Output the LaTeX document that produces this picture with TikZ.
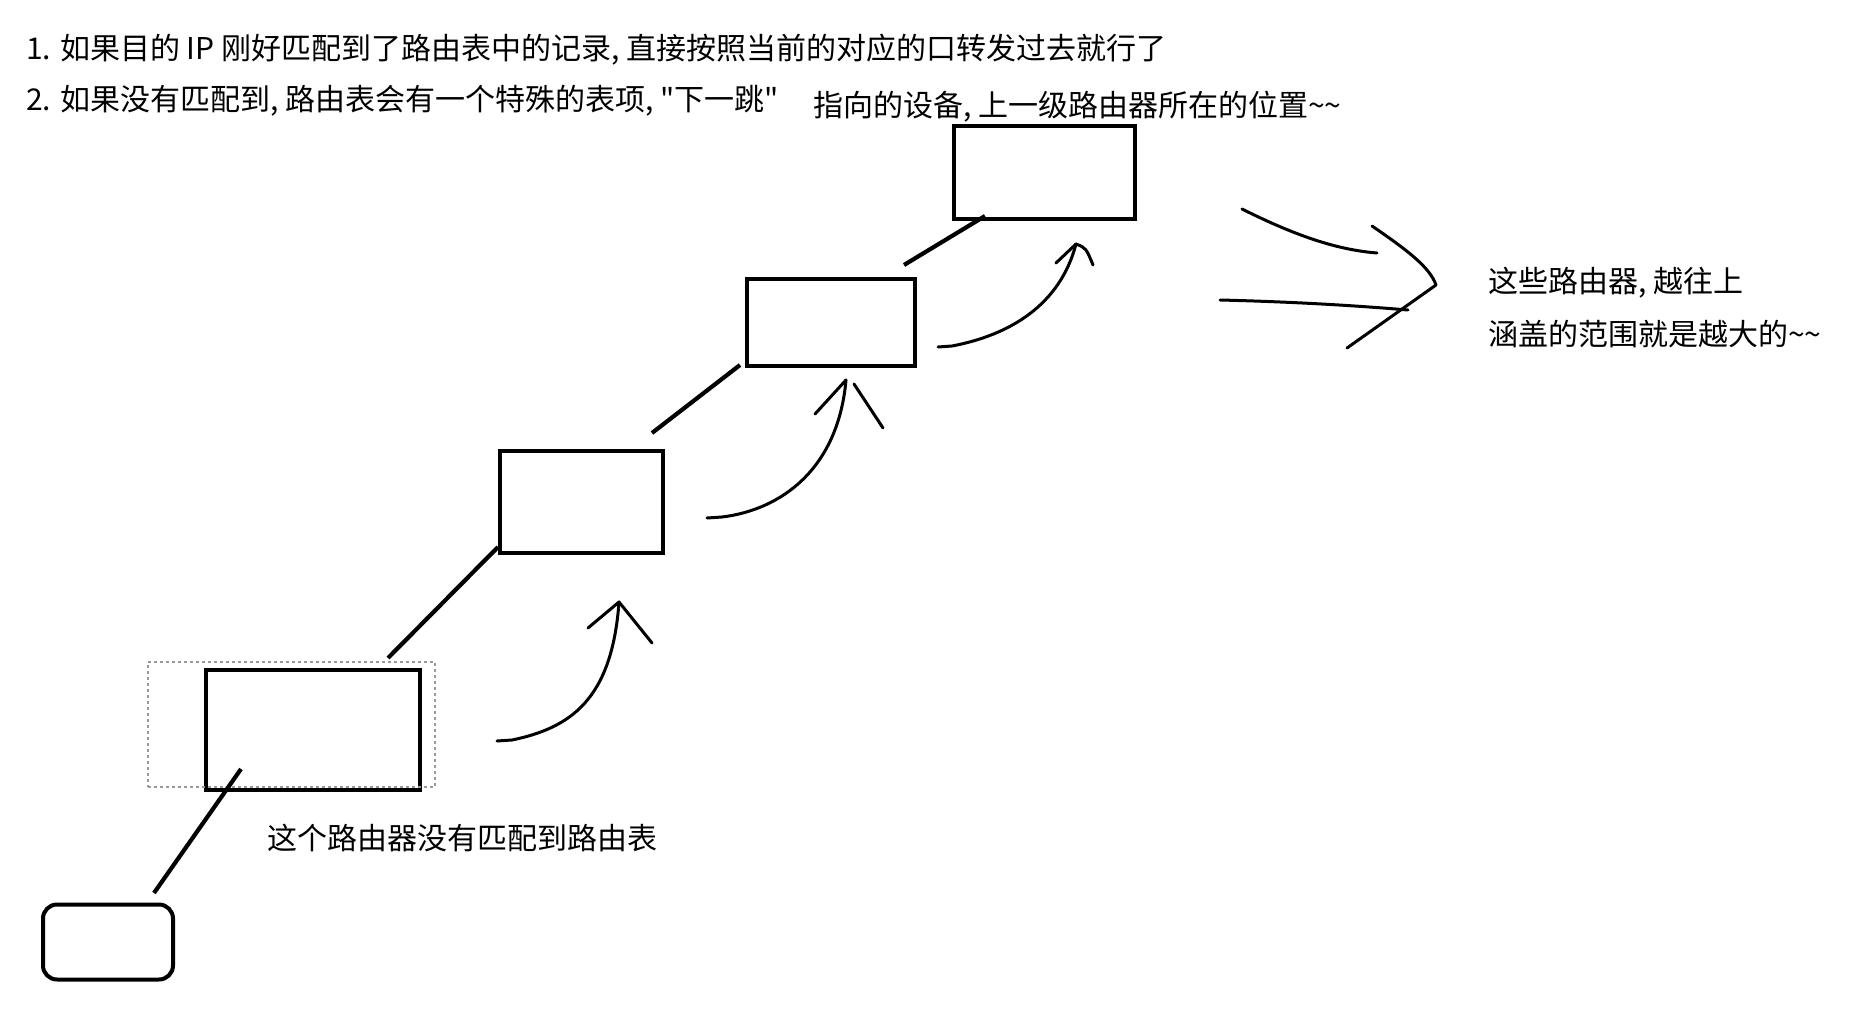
\documentclass[tikz,border=0pt]{standalone}
\usepackage{fontspec}
\setmainfont{Noto Sans CJK SC}
\usetikzlibrary{positioning}

\begin{document}
\begin{tikzpicture}[
  x=1pt, y=-1pt,
  font=\fontsize{30}{36}\selectfont,
  rt/.style={draw, line width=4pt, inner sep=0pt},
  sel/.style={draw=gray!80, line width=1.2pt, dash pattern=on 3pt off 3pt, inner sep=0pt},
  link/.style={line width=4.2pt},
  pen/.style={line width=3pt, line cap=round, line join=round},
  note/.style={anchor=west, inner sep=0pt}
]
\fill[white] (0,0) rectangle (1870,1016);
\useasboundingbox (0,0) rectangle (1870,1016);

% notes on top
\node[note] (t1) at (26,50) {1. 如果目的 IP 刚好匹配到了路由表中的记录, 直接按照当前的对应的口转发过去就行了};
\node[note] (t2) at (26,101) {2. 如果没有匹配到, 路由表会有一个特殊的表项, \textquotedbl 下一跳\textquotedbl};
\node[note] (t3) at (813,107) {指向的设备, 上一级路由器所在的位置\textasciitilde\textasciitilde};

% routers
\node[rt, rounded corners=14pt, minimum width=130pt, minimum height=75pt] (r1) at (108,942) {};
\node[rt, minimum width=214pt, minimum height=120pt] (r2) at (313,730) {};
\node[rt, minimum width=163pt, minimum height=102pt] (r3) at (581.5,502) {};
\node[rt, minimum width=168pt, minimum height=87pt] (r4) at (831,322.5) {};
\node[rt, minimum width=181pt, minimum height=93pt] (r5) at (1044.5,172.5) {};
\node[sel, minimum width=287pt, minimum height=125pt] (pick) at (291.5,724.5) {};

% links between routers
\coordinate (k1a) at (154,893);
\coordinate (k1b) at (241,769);
\coordinate (k2a) at (388,658);
\coordinate (k2b) at (498,547);
\coordinate (k3a) at (652,433);
\coordinate (k3b) at (740,365);
\coordinate (k4a) at (904,265);
\coordinate (k4b) at (985,216);
\draw[link] (k1a) -- (k1b);
\draw[link] (k2a) -- (k2b);
\draw[link] (k3a) -- (k3b);
\draw[link] (k4a) -- (k4b);

% hand drawn hops
\draw[pen] (497,741) -- (512,740) .. controls (570,728) and (612,700) .. (619,602);
\draw[pen] (588,628) -- (619,602) -- (652,643);
\draw[pen] (707,518) -- (722,517) .. controls (780,510) and (838,470) .. (846,380);
\draw[pen] (815,414) -- (846,380);
\draw[pen] (854,384) -- (883,428);
\draw[pen] (938,347) -- (952,346) .. controls (1010,335) and (1060,305) .. (1076,244);
\draw[pen] (1056,263) -- (1076,244) .. controls (1086,248) .. (1093,265);

% big arrow
\draw[pen] (1242,209) .. controls (1300,238) and (1340,250) .. (1377,253);
\draw[pen] (1220,300) .. controls (1300,302) and (1360,306) .. (1408,310);
\draw[pen] (1372,226) .. controls (1410,252) and (1430,268) .. (1436,285) -- (1347,348);

\node[note] (t4) at (1488,283) {这些路由器, 越往上};
\node[note] (t5) at (1488,334) {涵盖的范围就是越大的\textasciitilde\textasciitilde};
\node[note] (t6) at (267,838) {这个路由器没有匹配到路由表};
\end{tikzpicture}
\end{document}
